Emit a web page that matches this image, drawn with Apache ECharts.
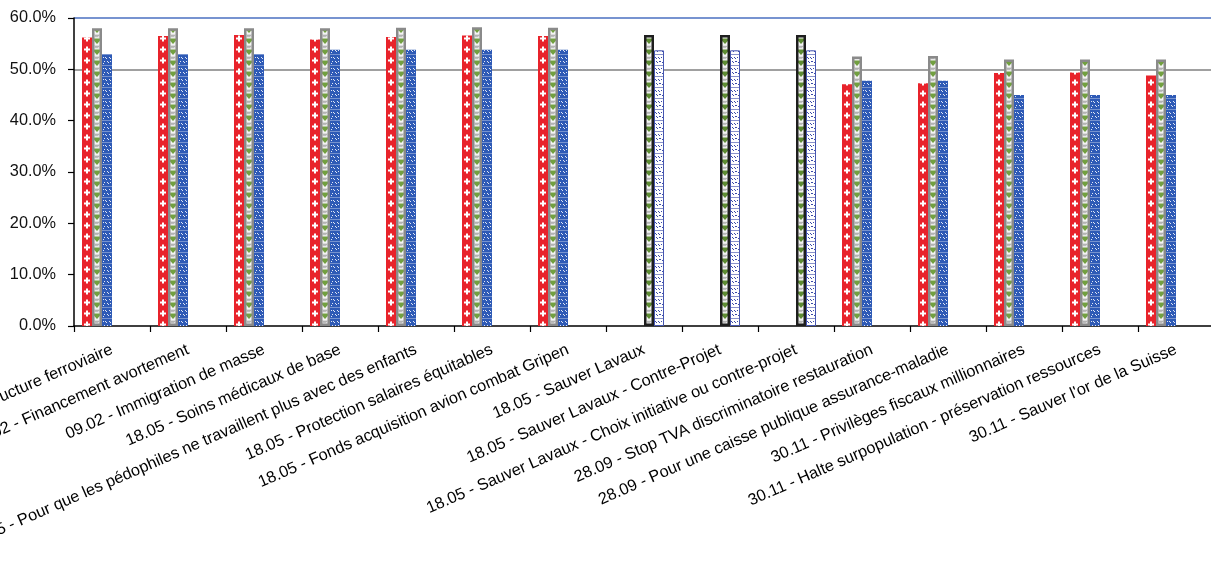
<!DOCTYPE html>
<html><head><meta charset="utf-8">
<script src="https://cdn.jsdelivr.net/npm/echarts@6/dist/echarts.min.js"></script>
<style>html,body{margin:0;padding:0;background:#fff}#c{width:1211px;height:564px}</style>
</head><body><div id="c"></div>
<script>
const categories = [
  "09.02 - Financement et aménagement de l'infrastructure ferroviaire",
  "09.02 - Financement avortement",
  "09.02 - Immigration de masse",
  "18.05 - Soins médicaux de base",
  "18.05 - Pour que les pédophiles ne travaillent plus avec des enfants",
  "18.05 - Protection salaires équitables",
  "18.05 - Fonds acquisition avion combat Gripen",
  "18.05 - Sauver Lavaux",
  "18.05 - Sauver Lavaux - Contre-Projet",
  "18.05 - Sauver Lavaux - Choix initiative ou contre-projet",
  "28.09 - Stop TVA discriminatoire restauration",
  "28.09 - Pour une caisse publique assurance-maladie",
  "30.11 - Privilèges fiscaux millionnaires",
  "30.11 - Halte surpopulation - préservation ressources",
  "30.11 - Sauver l'or de la Suisse"
];
const serie1 = [56.2, 56.5, 56.7, 55.8, 56.3, 56.6, 56.5, null, null, null, 47.1, 47.3, 49.3, 49.4, 48.8];
const serie2 = [58.0, 58.0, 58.0, 58.0, 58.1, 58.2, 58.1, null, null, null, 52.5, 52.6, 51.9, 51.9, 51.9];
const serie3 = [53.0, 53.0, 53.0, 53.8, 53.8, 53.8, 53.8, null, null, null, 47.8, 47.8, 45.0, 45.0, 45.0];
const serie4 = [null, null, null, null, null, null, null, 56.7, 56.7, 56.7, null, null, null, null, null];
const serie5 = [null, null, null, null, null, null, null, 53.7, 53.7, 53.7, null, null, null, null, null];
const serie6 = [null, null, null, null, null, null, null, null, null, null, null, null, null, null, null];
const yTicks = [0, 10, 20, 30, 40, 50, 60];

const TW = 76, TH = 11;
function tile(slot, draw) {
  const c = document.createElement('canvas');
  c.width = TW; c.height = TH;
  const g = c.getContext('2d');
  const x0 = (82 + 10 * slot) % TW;
  draw(g, x0);
  return { image: c, repeat: 'repeat' };
}
const redFill = tile(0, (g, x0) => {
  g.fillStyle = '#E8232B'; g.fillRect(0, 0, TW, TH);
  g.fillStyle = '#ffffff';
  const cx = x0 + 5, cy = 5.5;
  g.fillRect(cx - 3, cy - 1, 6, 2);
  g.fillRect(cx - 1, cy - 3, 2, 6);
});
function greenTri(g, x0, sq, tri) {
  g.fillStyle = '#F4F4F4'; g.fillRect(0, 0, TW, TH);
  g.fillStyle = sq; g.fillRect(x0 + 2, 1, 6, 3.5);
  g.fillStyle = '#A8A8A8'; g.fillRect(x0 + 3, 2, 4, 0.8); g.fillRect(x0 + 3, 3.3, 3, 0.6);
  g.fillStyle = tri;
  g.beginPath(); g.moveTo(x0, 5.5); g.lineTo(x0 + 10, 5.5); g.lineTo(x0 + 5, 11); g.closePath(); g.fill();
}
const grayFill = tile(1, (g, x0) => greenTri(g, x0, '#DCDCDC', '#72A040'));
const blueFill = tile(2, (g, x0) => {
  g.fillStyle = '#2E5AB6'; g.fillRect(0, 0, TW, TH);
  g.fillStyle = 'rgba(255,255,255,0.85)';
  [[1,2],[3,2],[4,3],[7,2],[8,3],[2,6],[5,6],[6,7],[8,6],[1,8]].forEach(p => g.fillRect(x0 + p[0], p[1], 1, 1));
  g.fillStyle = 'rgba(255,255,255,0.35)'; g.fillRect(0, 10, TW, 1);
});
const blackFill = tile(3, (g, x0) => greenTri(g, x0, '#E6E6E6', '#5E8C33'));
const whiteFill = tile(4, (g, x0) => {
  g.fillStyle = '#ffffff'; g.fillRect(0, 0, TW, TH);
  g.fillStyle = '#3A4AA8';
  [[1,2],[2,3],[4,2],[5,3],[7,2],[2,6],[3,7],[5,6],[6,6],[8,7]].forEach(p => g.fillRect(x0 + p[0], p[1], 1, 1));
  g.fillStyle = 'rgba(58,74,168,0.6)'; g.fillRect(0, 10, TW, 1);
});

const font = 'Liberation Sans, Arial, sans-serif';
function bar(name, data, itemStyle) {
  return { name, type: 'bar', data, barWidth: 10, barGap: '0%', itemStyle, z: 3 };
}
const chart = echarts.init(document.getElementById('c'));
chart.setOption({
  animation: false,
  backgroundColor: '#ffffff',
  grid: { left: 74, top: 18, width: 1140, height: 308, containLabel: false, outerBoundsMode: 'none' },
  xAxis: {
    type: 'category', data: categories,
    axisLine: { show: true, lineStyle: { color: '#000', width: 1.5 } },
    axisTick: { show: true, length: 6, lineStyle: { color: '#000', width: 1.2 } },
    axisLabel: { interval: 0, rotate: 23.5, margin: 23, fontSize: 16.3, fontFamily: font, color: '#000', hideOverlap: false },
    splitLine: { show: false }
  },
  yAxis: {
    type: 'value', min: 0, max: 60, interval: 10,
    axisLine: { show: true, lineStyle: { color: '#000', width: 1.5 } },
    axisTick: { show: true, length: 6, lineStyle: { color: '#000', width: 1.2 } },
    axisLabel: { margin: 18, fontSize: 16.3, fontFamily: font, color: '#111',
      formatter: v => v.toFixed(1) + '%' },
    splitLine: { show: true, showMinLine: true, showMaxLine: true,
      lineStyle: { width: 1.6, color: yTicks.map(t => t === 60 ? '#4A6FC0' : (t === 50 ? '#808080' : 'rgba(0,0,0,0)')) } }
  },
  series: [
    bar('Série 1', serie1, { color: redFill }),
    bar('Série 2', serie2, { color: grayFill, borderColor: '#8A8A8A', borderWidth: 2.5 }),
    bar('Série 3', serie3, { color: blueFill }),
    bar('Série 4', serie4, { color: blackFill, borderColor: '#1E1E1E', borderWidth: 2.5 }),
    bar('Série 5', serie5, { color: whiteFill, borderColor: '#4656B0', borderWidth: 1 }),
    bar('Série 6', serie6, { color: '#ffffff' })
  ]
});
</script>
</body></html>
